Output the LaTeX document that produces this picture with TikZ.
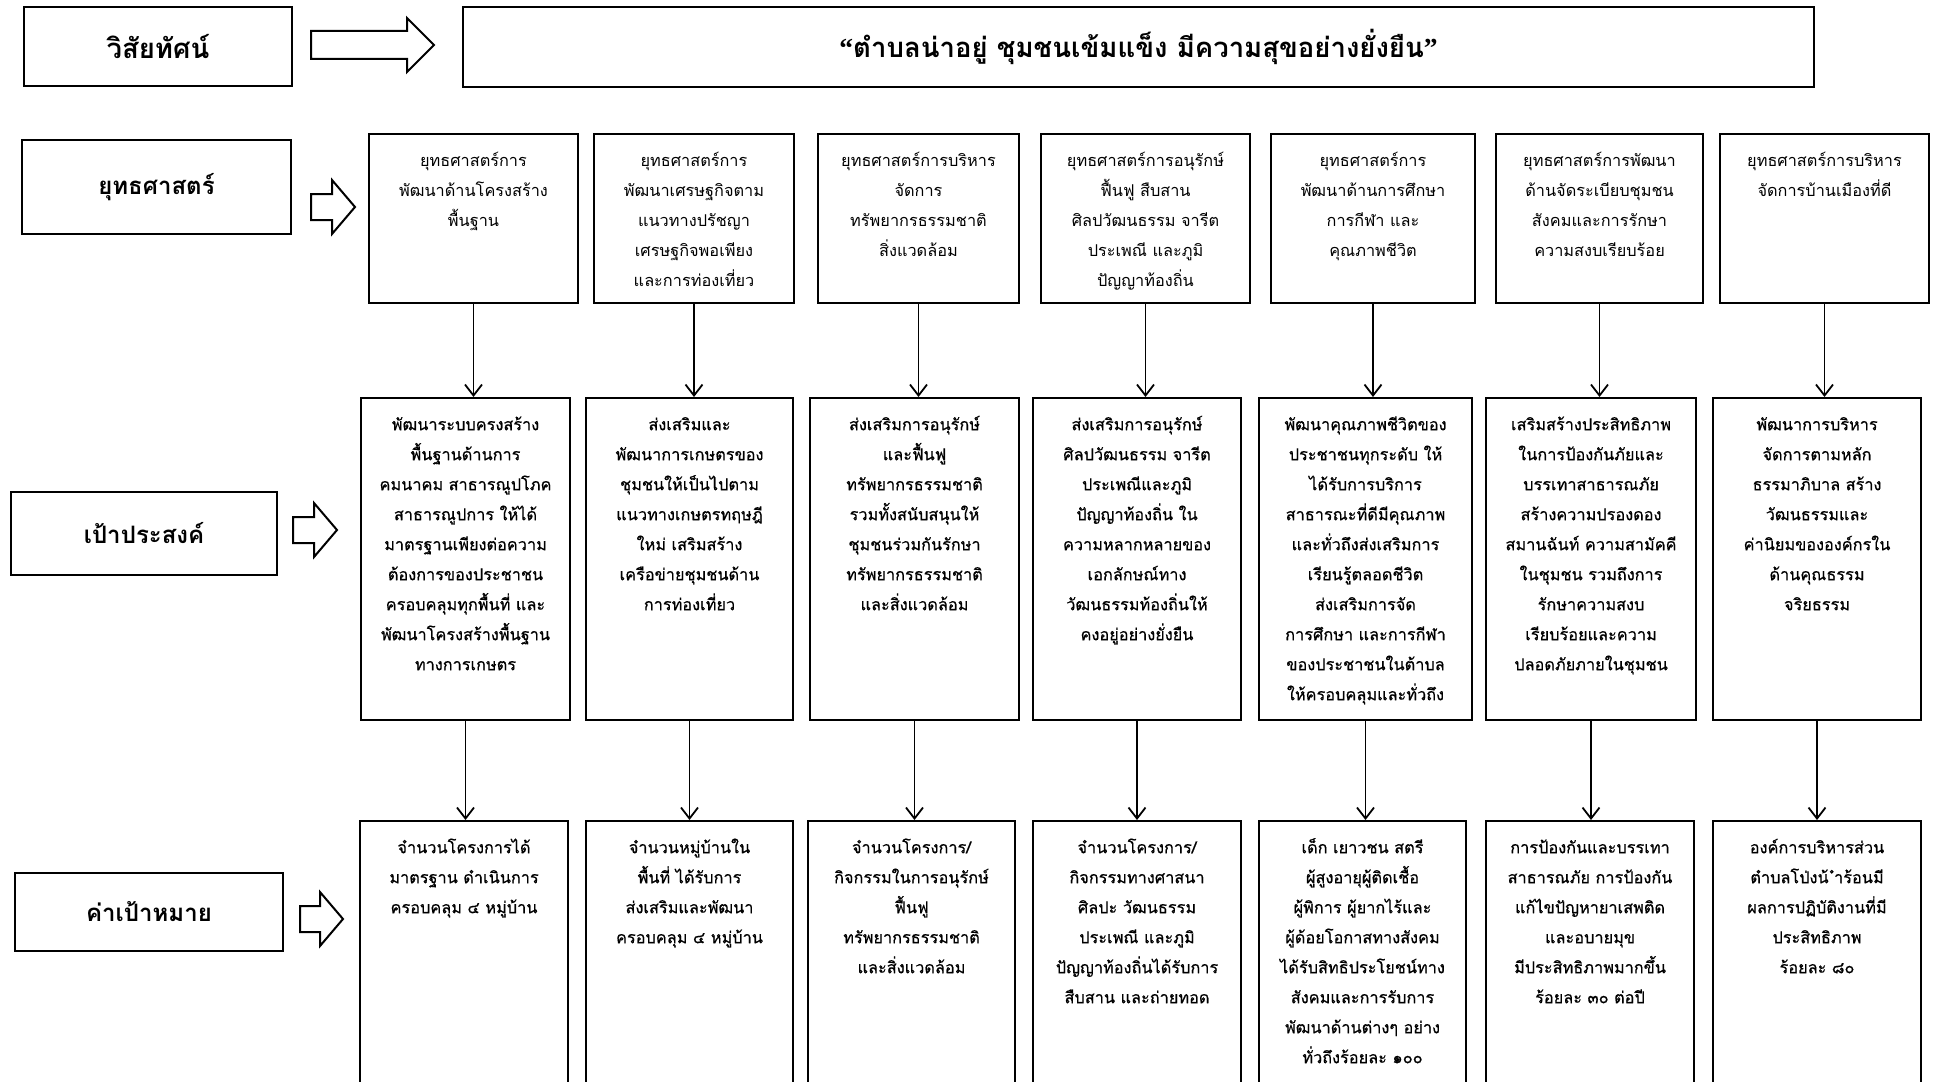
\documentclass[tikz,border=0pt]{standalone}
\usepackage{fontspec}
\usetikzlibrary{arrows.meta}
\newfontfamily\thai[Script=Thai]{Loma}
\newfontfamily\thaim[Script=Thai,FakeBold=0.6]{Loma}
\newfontfamily\qfont{Liberation Serif}

\tikzset{
 box/.style={draw=black, line width=2pt, fill=white, anchor=north west, inner sep=0pt},
 lbl/.style={box, font=\thai\bfseries\fontsize{24}{28}\selectfont},
 vis/.style={box, font=\thai\bfseries\fontsize{27.5}{32}\selectfont},
 txt/.style={anchor=north, align=center, inner sep=0pt, font=\thai\fontsize{16.3}{30}\selectfont},
 txtm/.style={txt, font=\thaim\fontsize{16.3}{30}\selectfont},
 conn/.style={line width=1.8pt, -{Straight Barb[length=11pt,width=17pt,line width=1.8pt]}},
 barrow/.style={draw=black, line width=2pt, fill=white, line join=miter},
}

% #1 name, #2 x left, #3 x right, #4 y top, #5 height, #6 text style, #7 text
\newcommand\Bx[7]{%
  \node[box, minimum width={(#3-#2)*1pt}, minimum height={#5*1pt}] (#1) at (#2,#4) {};
  \node[#6] (#1t) at ([yshift=-12pt]#1.north) {\strut #7};
}
% #1 tail x, #2 centre y, #3 length, #4 head length, #5 shaft half, #6 head half
\newcommand\BArr[6]{%
  \draw[barrow] ({#1},{#2-#5}) -- ({#1+#3-#4},{#2-#5}) -- ({#1+#3-#4},{#2-#6}) -- ({#1+#3},{#2})
    -- ({#1+#3-#4},{#2+#6}) -- ({#1+#3-#4},{#2+#5}) -- ({#1},{#2+#5}) -- cycle;
}

\begin{document}
\begin{tikzpicture}[x=1pt,y=-1pt]
\useasboundingbox (0,0) rectangle (1934,1081);
\clip (0,0) rectangle (1934,1081);
\fill[white] (0,0) rectangle (1934,1081);

% ---- left labels
\node[vis, minimum width=268pt, minimum height=79pt] (lv) at (23,6) {วิสัยทัศน์};
\node[lbl, minimum width=269pt, minimum height=94pt] (ls) at (21,139) {ยุทธศาสตร์};
\node[lbl, minimum width=266pt, minimum height=83pt] (lo) at (10,491) {เป้าประสงค์};
\node[lbl, minimum width=268pt, minimum height=78pt] (lt) at (14,872) {ค่าเป้าหมาย};

% ---- vision
\node[vis, minimum width=1351pt, minimum height=80pt] (vb) at (462,6)
  {{\qfont\bfseries “}ตำบลน่าอยู่ ชุมชนเข้มแข็ง มีความสุขอย่างยั่งยืน{\qfont\bfseries ”}};

% ---- block arrows
\BArr{311}{45}{123}{27}{14}{27}
\BArr{311}{207}{44}{23}{13}{27}
\BArr{293}{530}{44}{23}{13}{27}
\BArr{300}{919}{43}{23}{13}{27}

% ---- strategy row
\Bx{s1}{368}{577}{133}{169}{txt}{ยุทธศาสตร์การ\\พัฒนาด้านโครงสร้าง\\พื้นฐาน}
\Bx{s2}{593}{793}{133}{169}{txt}{ยุทธศาสตร์การ\\พัฒนาเศรษฐกิจตาม\\แนวทางปรัชญา\\เศรษฐกิจพอเพียง\\และการท่องเที่ยว}
\Bx{s3}{817}{1018}{133}{169}{txt}{ยุทธศาสตร์การบริหาร\\จัดการ\\ทรัพยากรธรรมชาติ\\สิ่งแวดล้อม}
\Bx{s4}{1040}{1249}{133}{169}{txt}{ยุทธศาสตร์การอนุรักษ์\\ฟื้นฟู สืบสาน\\ศิลปวัฒนธรรม จารีต\\ประเพณี และภูมิ\\ปัญญาท้องถิ่น}
\Bx{s5}{1270}{1474}{133}{169}{txt}{ยุทธศาสตร์การ\\พัฒนาด้านการศึกษา\\การกีฬา และ\\คุณภาพชีวิต}
\Bx{s6}{1495}{1702}{133}{169}{txt}{ยุทธศาสตร์การพัฒนา\\ด้านจัดระเบียบชุมชน\\สังคมและการรักษา\\ความสงบเรียบร้อย}
\Bx{s7}{1719}{1928}{133}{169}{txt}{ยุทธศาสตร์การบริหาร\\จัดการบ้านเมืองที่ดี}

% ---- objective row
\Bx{o1}{360}{569}{397}{322}{txtm}{พัฒนาระบบครงสร้าง\\พื้นฐานด้านการ\\คมนาคม สาธารณูปโภค\\สาธารณูปการ ให้ได้\\มาตรฐานเพียงต่อความ\\ต้องการของประชาชน\\ครอบคลุมทุกพื้นที่ และ\\พัฒนาโครงสร้างพื้นฐาน\\ทางการเกษตร}
\Bx{o2}{585}{792}{397}{322}{txtm}{ส่งเสริมและ\\พัฒนาการเกษตรของ\\ชุมชนให้เป็นไปตาม\\แนวทางเกษตรทฤษฎี\\ใหม่ เสริมสร้าง\\เครือข่ายชุมชนด้าน\\การท่องเที่ยว}
\Bx{o3}{809}{1018}{397}{322}{txtm}{ส่งเสริมการอนุรักษ์\\และฟื้นฟู\\ทรัพยากรธรรมชาติ\\รวมทั้งสนับสนุนให้\\ชุมชนร่วมกันรักษา\\ทรัพยากรธรรมชาติ\\และสิ่งแวดล้อม}
\Bx{o4}{1032}{1240}{397}{322}{txtm}{ส่งเสริมการอนุรักษ์\\ศิลปวัฒนธรรม จารีต\\ประเพณีและภูมิ\\ปัญญาท้องถิ่น ใน\\ความหลากหลายของ\\เอกลักษณ์ทาง\\วัฒนธรรมท้องถิ่นให้\\คงอยู่อย่างยั่งยืน}
\Bx{o5}{1258}{1471}{397}{322}{txtm}{พัฒนาคุณภาพชีวิตของ\\ประชาชนทุกระดับ ให้\\ได้รับการบริการ\\สาธารณะที่ดีมีคุณภาพ\\และทั่วถึงส่งเสริมการ\\เรียนรู้ตลอดชีวิต\\ส่งเสริมการจัด\\การศึกษา และการกีฬา\\ของประชาชนในต้าบล\\ให้ครอบคลุมและทั่วถึง}
\Bx{o6}{1485}{1695}{397}{322}{txtm}{เสริมสร้างประสิทธิภาพ\\ในการป้องกันภัยและ\\บรรเทาสาธารณภัย\\สร้างความปรองดอง\\สมานฉันท์ ความสามัคคี\\ในชุมชน รวมถึงการ\\รักษาความสงบ\\เรียบร้อยและความ\\ปลอดภัยภายในชุมชน}
\Bx{o7}{1712}{1920}{397}{322}{txtm}{พัฒนาการบริหาร\\จัดการตามหลัก\\ธรรมาภิบาล สร้าง\\วัฒนธรรมและ\\ค่านิยมขององค์กรใน\\ด้านคุณธรรม\\จริยธรรม}

% ---- target row
\Bx{t1}{359}{567}{820}{290}{txtm}{จำนวนโครงการได้\\มาตรฐาน ดำเนินการ\\ครอบคลุม ๔ หมู่บ้าน}
\Bx{t2}{585}{792}{820}{290}{txtm}{จำนวนหมู่บ้านใน\\พื้นที่ ได้รับการ\\ส่งเสริมและพัฒนา\\ครอบคลุม ๔ หมู่บ้าน}
\Bx{t3}{807}{1014}{820}{290}{txtm}{จำนวนโครงการ/\\กิจกรรมในการอนุรักษ์\\ฟื้นฟู\\ทรัพยากรธรรมชาติ\\และสิ่งแวดล้อม}
\Bx{t4}{1032}{1240}{820}{290}{txtm}{จำนวนโครงการ/\\กิจกรรมทางศาสนา\\ศิลปะ วัฒนธรรม\\ประเพณี และภูมิ\\ปัญญาท้องถิ่นได้รับการ\\สืบสาน และถ่ายทอด}
\Bx{t5}{1258}{1465}{820}{290}{txtm}{เด็ก เยาวชน สตรี\\ผู้สูงอายุผู้ติดเชื้อ\\ผู้พิการ ผู้ยากไร้และ\\ผู้ด้อยโอกาสทางสังคม\\ได้รับสิทธิประโยชน์ทาง\\สังคมและการรับการ\\พัฒนาด้านต่างๆ อย่าง\\ทั่วถึงร้อยละ ๑๐๐}
\Bx{t6}{1485}{1693}{820}{290}{txtm}{การป้องกันและบรรเทา\\สาธารณภัย การป้องกัน\\แก้ไขปัญหายาเสพติด\\และอบายมุข\\มีประสิทธิภาพมากขึ้น\\ร้อยละ ๓๐ ต่อปี}
\Bx{t7}{1712}{1920}{820}{290}{txtm}{องค์การบริหารส่วน\\ตำบลโป่งน้ ำร้อนมี\\ผลการปฏิบัติงานที่มี\\ประสิทธิภาพ\\ร้อยละ ๘๐}

% ---- connectors
\foreach \i in {1,...,7} {
  \draw[conn] (s\i.south) -- (s\i.south |- o\i.north);
  \draw[conn] (o\i.south) -- (o\i.south |- t\i.north);
}
\end{tikzpicture}
\end{document}
